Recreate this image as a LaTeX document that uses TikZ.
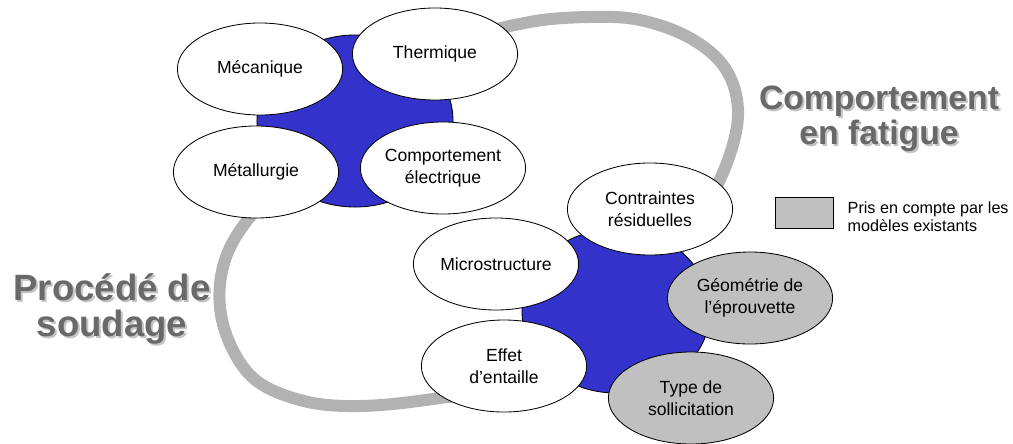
\documentclass[tikz,border=0pt]{standalone}
\usepackage{fontspec}
\setmainfont{Liberation Sans}
\usetikzlibrary{positioning}
\usetikzlibrary{shapes.geometric}
\definecolor{bleu}{RGB}{51,51,204}
\definecolor{grisclair}{RGB}{192,192,192}
\definecolor{grisboucle}{RGB}{178,178,178}
\definecolor{gristitre}{RGB}{105,105,105}
\definecolor{grisombre}{RGB}{195,195,195}

\begin{document}
\begin{tikzpicture}[x=0.025cm,y=-0.025cm,
	bulle/.style={ellipse,draw,line width=0.6pt,fill=white,minimum width=4.13cm,minimum height=2.3cm,
		inner sep=0pt,align=center,font=\fontsize{12.5}{15.4}\selectfont},
	bulleg/.style={bulle,fill=grisclair},
	noyau/.style={ellipse,draw,line width=0.6pt,fill=bleu},
	titre/.style={align=center,text=gristitre,font=\bfseries\fontsize{26}{26.2}\selectfont},
	ombre/.style={titre,text=grisombre}]
	\useasboundingbox (0,0) rectangle (1013,443);
	% boucle grise, sous tout le reste
	\draw[grisboucle,line width=0.3cm,smooth cycle,tension=0.6] plot coordinates {
		(330,140) (260,205) (225,260) (222,320) (250,375) (300,400) (360,406) (440,398)
		(540,380) (640,300) (700,215) (728,160) (738,110) (725,68) (690,38) (640,20)
		(590,17) (530,22) (470,40) (400,90)};
	% les deux noyaux bleus
	\node[noyau,minimum width=4.9cm,minimum height=4.3cm] (soud) at (355,121) {};
	\node[noyau,minimum width=4.7cm,minimum height=4.1cm] (fat) at (616,311) {};
	% procédé de soudage
	\node[bulle] (meca) at (260,69) {Mécanique};
	\node[bulle] (therm) at (435,54) {Thermique};
	\node[bulle] (metal) at (256,172) {Métallurgie};
	\node[bulle] (elec) at (443,168) {Comportement\\électrique};
	% comportement en fatigue
	\node[bulle] (contr) at (650,209) {Contraintes\\résiduelles};
	\node[bulle] (micro) at (496,264) {Microstructure};
	\node[bulleg] (geom) at (750,298) {Géométrie de\\l’éprouvette};
	\node[bulle] (effet) at (504,366) {Effet\\d’entaille};
	\node[bulleg] (type) at (691,398) {Type de\\sollicitation};
	% titres avec ombre
	\node[ombre] at (114,311) {Procédé de\\soudage};
	\node[titre] (proc) at (112,309) {Procédé de\\soudage};
	\node[ombre,font=\bfseries\fontsize{24}{24.8}\selectfont] at (881,120.5) {Comportement\\en fatigue};
	\node[titre,font=\bfseries\fontsize{24}{24.8}\selectfont] (comp) at (879,118.5) {Comportement\\en fatigue};
	% légende
	\node[draw,line width=0.6pt,fill=grisclair,minimum width=1.45cm,minimum height=0.775cm,inner sep=0pt] (leg) at (804,212.5) {};
	\node[right=0.35cm of leg,yshift=-0.11cm,inner sep=0pt,align=left,font=\fontsize{11.5}{12.8}\selectfont] (legt)
		{Pris en compte par les\\modèles existants};
\end{tikzpicture}
\end{document}
